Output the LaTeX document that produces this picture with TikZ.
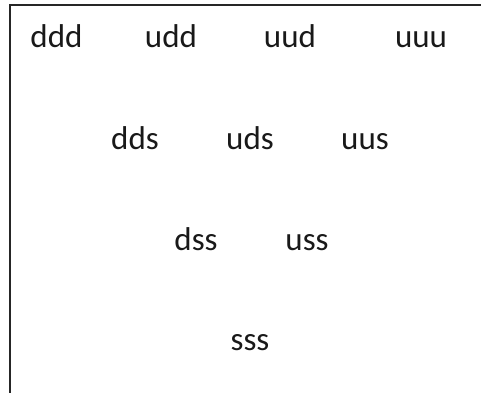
\documentclass[tikz,border=0pt]{standalone}
\usepackage{fontspec}
\setmainfont{Carlito}
\tikzset{
  frameline/.style={line width=2pt, draw=black!85},
  quark/.style={anchor=base, inner sep=0pt, font=\fontsize{33}{38}\selectfont, text=black!90}
}
\begin{document}
\begin{tikzpicture}[x=1pt,y=-1pt]
  \useasboundingbox (0,0) rectangle (481,393);
  % frame: top edge and left edge
  \coordinate (tl) at (9.5,5);
  \coordinate (tr) at (481,5);
  \coordinate (bl) at (9.5,393);
  \draw[frameline] (tr) -- (tl) -- (bl);
  % decuplet rows
  \node[quark] (ddd) at (56.5,48) {ddd};
  \node[quark] (udd) at (171,48) {udd};
  \node[quark] (uud) at (290,48) {uud};
  \node[quark] (uuu) at (421,48) {uuu};
  \node[quark] (dds) at (135,149) {dds};
  \node[quark] (uds) at (250,149) {uds};
  \node[quark] (uus) at (365,149) {uus};
  \node[quark] (dss) at (196,250) {dss};
  \node[quark] (uss) at (307,250) {uss};
  \node[quark] (sss) at (250,350) {sss};
\end{tikzpicture}
\end{document}
